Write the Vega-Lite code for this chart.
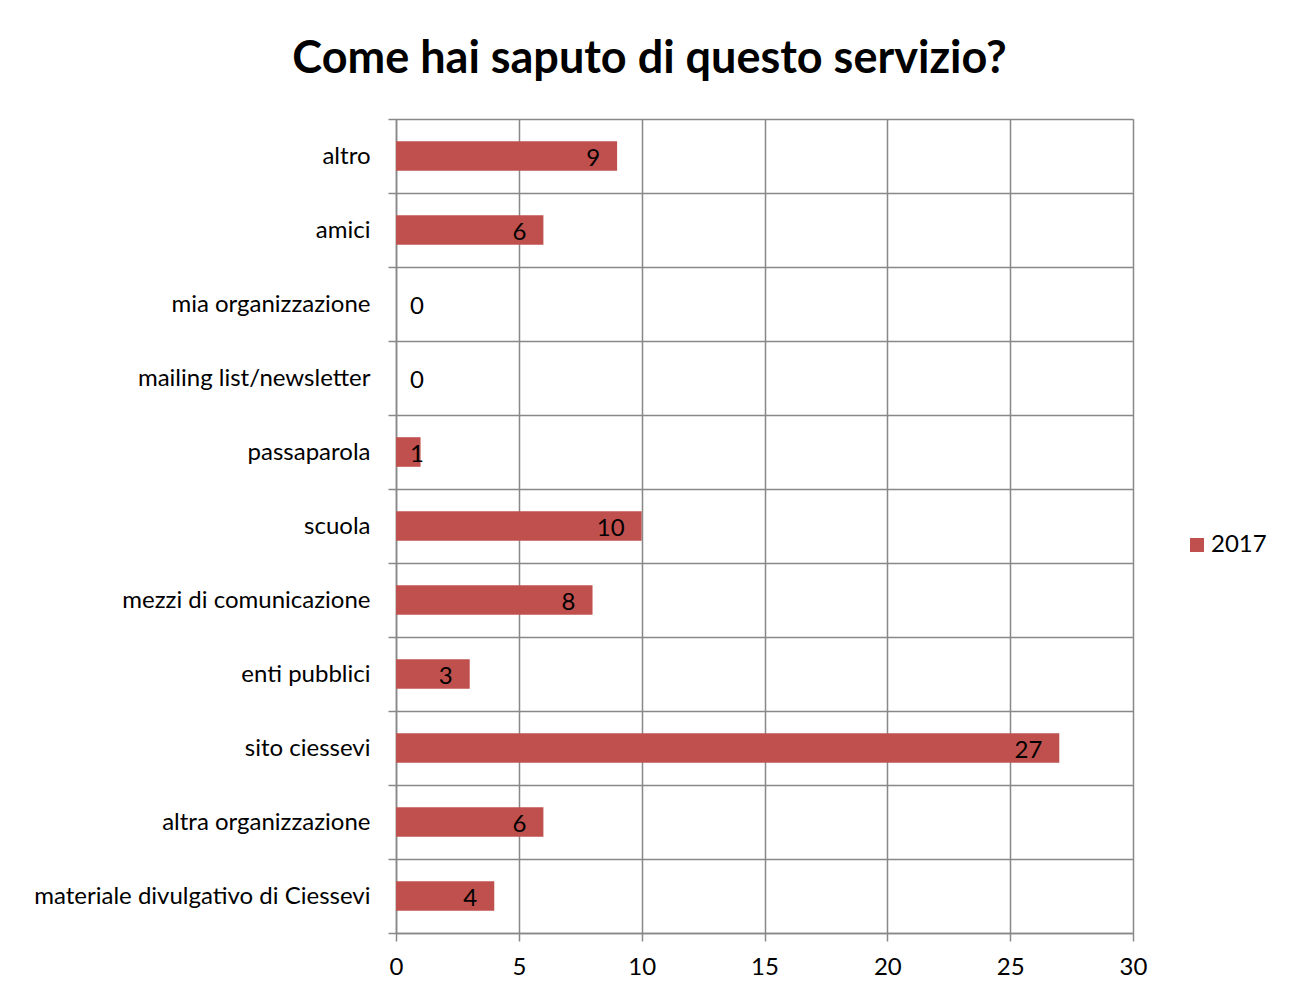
{
  "$schema": "https://vega.github.io/schema/vega-lite/v6.json",
  "autosize": {"type": "none"},
  "padding": {"left": 396, "top": 119, "right": 159, "bottom": 61},
  "width": 737,
  "height": 814,
  "background": "white",
  "title": {
    "text": "Come hai saputo di questo servizio?",
    "font": "Lato",
    "fontSize": 45,
    "fontWeight": "bold",
    "color": "black",
    "anchor": "middle",
    "baseline": "alphabetic",
    "offset": -11,
    "dx": -115
  },
  "data": {
    "values": [
      {"fonte": "altro", "n": 9, "anno": "2017"},
      {"fonte": "amici", "n": 6, "anno": "2017"},
      {"fonte": "mia organizzazione", "n": 0, "anno": "2017"},
      {"fonte": "mailing list/newsletter", "n": 0, "anno": "2017"},
      {"fonte": "passaparola", "n": 1, "anno": "2017"},
      {"fonte": "scuola", "n": 10, "anno": "2017"},
      {"fonte": "mezzi di comunicazione ", "n": 8, "anno": "2017"},
      {"fonte": "enti pubblici", "n": 3, "anno": "2017"},
      {"fonte": "sito ciessevi", "n": 27, "anno": "2017"},
      {"fonte": "altra organizzazione", "n": 6, "anno": "2017"},
      {"fonte": "materiale divulgativo di Ciessevi", "n": 4, "anno": "2017"}
    ]
  },
  "encoding": {
    "y": {
      "field": "fonte",
      "type": "nominal",
      "sort": null,
      "scale": {"paddingInner": 0, "paddingOuter": 0},
      "axis": {
        "title": null,
        "tickBand": "extent",
        "grid": true,
        "gridColor": "#888888",
        "gridWidth": 1.5,
        "domainColor": "#888888",
        "domainWidth": 1.5,
        "tickColor": "#888888",
        "tickWidth": 1.5,
        "tickSize": 8,
        "labelFont": "Lato",
        "labelFontSize": 24,
        "labelColor": "black",
        "labelPadding": 18,
        "labelLimit": 400
      }
    }
  },
  "layer": [
    {
      "mark": {"type": "bar", "color": "#C0504D", "height": {"band": 0.4}},
      "encoding": {
        "x": {
          "field": "n",
          "type": "quantitative",
          "scale": {"domain": [0, 30], "nice": false},
          "axis": {
            "title": null,
            "values": [0, 5, 10, 15, 20, 25, 30],
            "grid": true,
            "gridColor": "#888888",
            "gridWidth": 1.5,
            "domainColor": "#888888",
            "domainWidth": 1.5,
            "tickColor": "#888888",
            "tickWidth": 1.5,
            "tickSize": 8,
            "labelFont": "Lato",
            "labelFontSize": 24,
            "labelColor": "black",
            "labelPadding": 14,
            "labelFlush": false
          }
        },
        "color": {
          "field": "anno",
          "type": "nominal",
          "scale": {"range": ["#C0504D"]},
          "legend": {
            "title": null,
            "orient": "none",
            "legendX": 789,
            "legendY": 414,
            "symbolType": "square",
            "symbolSize": 196,
            "symbolStrokeWidth": 0,
            "symbolOpacity": 1,
            "labelFont": "Lato",
            "labelFontSize": 24,
            "labelColor": "black",
            "labelOffset": 2
          }
        }
      }
    },
    {
      "transform": [{"calculate": "max(datum.n, 1.83)", "as": "pos"}],
      "mark": {
        "type": "text",
        "align": "right",
        "baseline": "middle",
        "dx": -17,
        "dy": 3,
        "font": "Lato",
        "fontSize": 24,
        "color": "black"
      },
      "encoding": {
        "x": {"field": "pos", "type": "quantitative"},
        "text": {"field": "n", "type": "quantitative"}
      }
    }
  ]
}
